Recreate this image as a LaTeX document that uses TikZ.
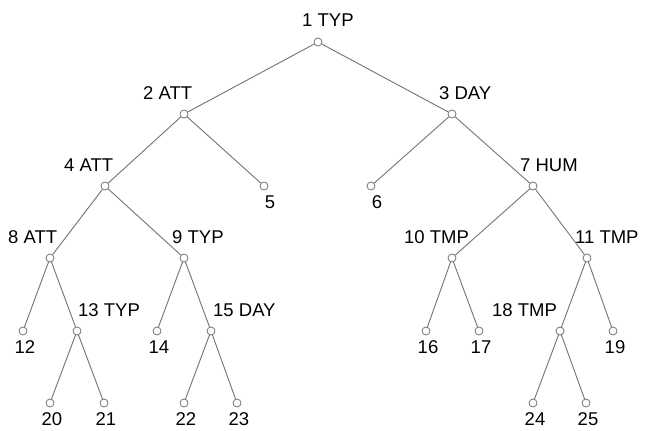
\documentclass[tikz,border=0pt]{standalone}
\usepackage{fontspec}
\setmainfont{Liberation Sans}
\begin{document}
\begin{tikzpicture}[x=1pt,y=-1pt,
  nd/.style={circle,draw=black!55,line width=0.8pt,minimum size=8pt,inner sep=0pt},
  edge/.style={draw=black!55,line width=0.9pt},
  lab/.style={font=\fontsize{18.5}{20}\selectfont,inner sep=0pt,anchor=base west},
  leaf/.style={font=\fontsize{18.5}{20}\selectfont,inner sep=0pt,anchor=base}]
\useasboundingbox[fill=white] (0,0) rectangle (646,431);
% nodes
\node[nd] (n1) at (318,42) {};
\node[nd] (n2) at (184,114) {};
\node[nd] (n3) at (452,114) {};
\node[nd] (n4) at (105,186) {};
\node[nd] (n5) at (264,186) {};
\node[nd] (n6) at (371,186) {};
\node[nd] (n7) at (533,186) {};
\node[nd] (n8) at (50,258) {};
\node[nd] (n9) at (184,258) {};
\node[nd] (n10) at (452,258) {};
\node[nd] (n11) at (587,258) {};
\node[nd] (n12) at (23,331) {};
\node[nd] (n13) at (77,331) {};
\node[nd] (n14) at (157,331) {};
\node[nd] (n15) at (211,331) {};
\node[nd] (n16) at (426,331) {};
\node[nd] (n17) at (479,331) {};
\node[nd] (n18) at (560,331) {};
\node[nd] (n19) at (613,331) {};
\node[nd] (n20) at (50,403) {};
\node[nd] (n21) at (104,403) {};
\node[nd] (n22) at (184,403) {};
\node[nd] (n23) at (237,403) {};
\node[nd] (n24) at (533,403) {};
\node[nd] (n25) at (586,403) {};
% edges
\foreach \a/\b in {n1/n2,n1/n3,n2/n4,n2/n5,n3/n6,n3/n7,n4/n8,n4/n9,n7/n10,n7/n11,
  n8/n12,n8/n13,n9/n14,n9/n15,n10/n16,n10/n17,n11/n18,n11/n19,
  n13/n20,n13/n21,n15/n22,n15/n23,n18/n24,n18/n25}
  \path[edge] (\a) -- (\b);
% internal labels
\node[lab] (l1) at (302,27) {1 TYP};
\node[lab] (l2) at (143,99) {2 ATT};
\node[lab] (l3) at (439,99) {3 DAY};
\node[lab] (l4) at (64,171) {4 ATT};
\node[lab] (l7) at (520,171) {7 HUM};
\node[lab] (l8) at (8,243) {8 ATT};
\node[lab] (l9) at (172,243) {9 TYP};
\node[lab] (l10) at (404,243) {10 TMP};
\node[lab] (l11) at (575,243) {11 TMP};
\node[lab] (l13) at (78,316) {13 TYP};
\node[lab] (l15) at (213,316) {15 DAY};
\node[lab] (l18) at (492,316) {18 TMP};
% leaf labels
\node[leaf] (l5) at (270,208.5) {5};
\node[leaf] (l6) at (377,208.5) {6};
\node[leaf] (l12) at (25,353.5) {12};
\node[leaf] (l14) at (159,353.5) {14};
\node[leaf] (l16) at (428,353.5) {16};
\node[leaf] (l17) at (481,353.5) {17};
\node[leaf] (l19) at (615,353.5) {19};
\node[leaf] (l20) at (52,425.5) {20};
\node[leaf] (l21) at (106,425.5) {21};
\node[leaf] (l22) at (186,425.5) {22};
\node[leaf] (l23) at (239,425.5) {23};
\node[leaf] (l24) at (535,425.5) {24};
\node[leaf] (l25) at (588,425.5) {25};
\end{tikzpicture}
\end{document}
